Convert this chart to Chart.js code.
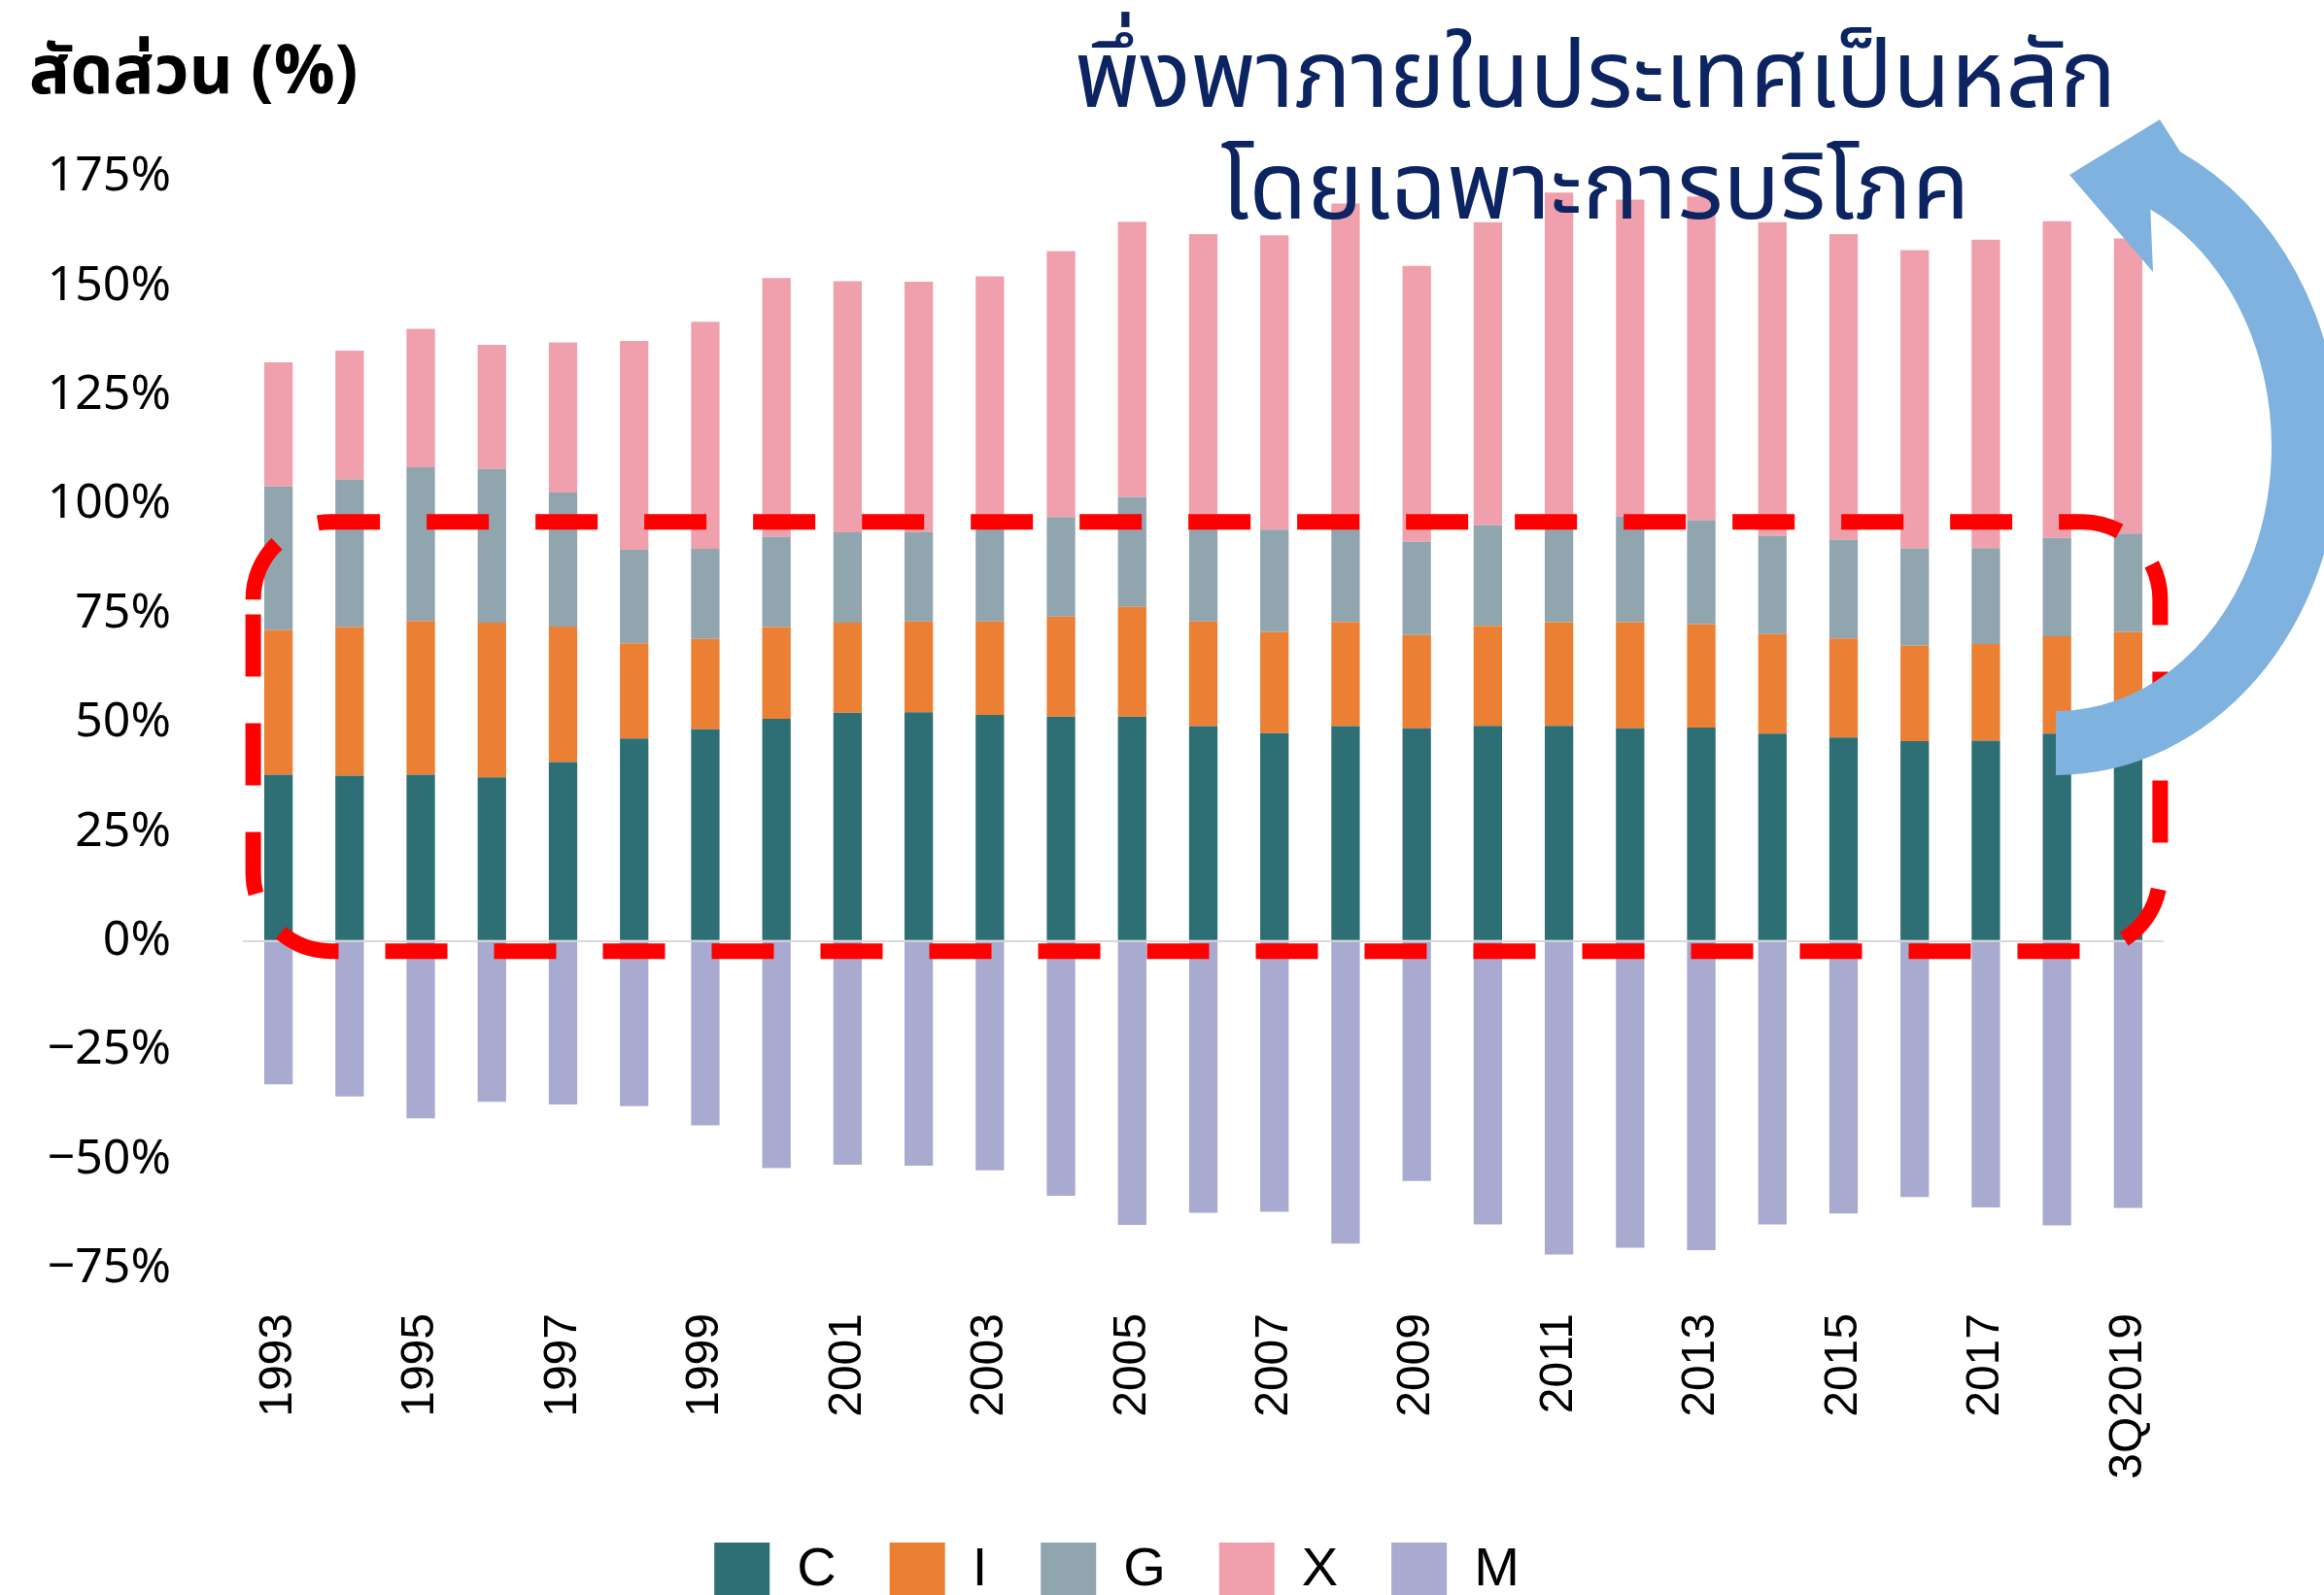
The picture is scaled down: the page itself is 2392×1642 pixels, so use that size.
<!DOCTYPE html>
<html>
<head>
<meta charset="utf-8">
<script src="https://cdn.jsdelivr.net/npm/chart.js@4.4.0/dist/chart.umd.min.js"></script>
<style>
  html, body { margin: 0; padding: 0; background: #ffffff; }
</style>
</head>
<body>
<canvas id="barchart1" width="2392" height="1642"></canvas>
<script>
// ข้อมูล: สัดส่วนต่อ GDP (%)
const years = ['1993', '1994', '1995', '1996', '1997', '1998', '1999', '2000', '2001', '2002',
  '2003', '2004', '2005', '2006', '2007', '2008', '2009', '2010', '2011', '2012',
  '2013', '2014', '2015', '2016', '2017', '2018', '3Q2019'];
const shownYears = ['1993', '1995', '1997', '1999', '2001', '2003', '2005', '2007', '2009',
  '2011', '2013', '2015', '2017', '3Q2019'];

const valuesC = [38.1, 37.9, 38.1, 37.5, 41.0, 46.4, 48.5, 50.9, 52.3, 52.4, 51.8, 51.4, 51.4, 49.2,
  47.6, 49.2, 48.7, 49.3, 49.3, 48.7, 48.9, 47.5, 46.6, 45.8, 45.9, 47.5, 47.0];
const valuesI = [33.1, 34.0, 35.2, 35.4, 31.0, 21.8, 20.7, 21.0, 20.6, 20.8, 21.4, 22.9, 25.1, 24.0,
  23.2, 23.9, 21.4, 22.9, 23.7, 24.3, 23.7, 22.8, 22.7, 21.8, 22.1, 22.3, 23.8];
const valuesG = [32.9, 33.8, 35.2, 35.2, 30.7, 21.4, 20.6, 20.7, 20.7, 20.5, 22.3, 22.8, 25.2, 22.3,
  23.4, 22.4, 21.3, 23.0, 22.5, 24.2, 23.8, 22.5, 22.6, 22.3, 22.0, 22.5, 22.5];
const valuesX = [28.4, 29.5, 31.7, 28.4, 34.4, 47.8, 52.0, 59.2, 57.5, 57.3, 56.7, 60.9, 63.0, 66.4,
  67.4, 73.4, 63.2, 69.4, 75.9, 72.6, 74.1, 71.8, 70.0, 68.3, 70.6, 72.5, 67.6];
const valuesM = [-32.8, -35.6, -40.6, -36.8, -37.4, -37.8, -42.2, -52.0, -51.2, -51.4, -52.5, -58.3,
  -65.0, -62.2, -62.0, -69.3, -54.9, -64.9, -71.8, -70.2, -70.8, -64.9, -62.4, -58.6, -61.0, -65.1, -61.1];

const seriesNames = ['C', 'I', 'G', 'X', 'M'];
const seriesColors = ['#2e6f75', '#eb8035', '#91a5af', '#f0a0ac', '#a8aacf'];

const yTicks = [-75, -50, -25, 0, 25, 50, 75, 100, 125, 150, 175];

const thaiFont = '"Noto Sans Thai", "Noto Sans Thai UI", "Noto Sans", sans-serif';
const latinFont = '"Liberation Sans", Arial, sans-serif';

// วาดกรอบเส้นประ ลูกศร และข้อความ
const annotations = {
  id: 'annotations',
  afterLayout(chart) {
    // เลื่อน legend ให้ตรงกับภาพต้นฉบับ
    chart.legend.left += 36;
    chart.legend.right += 36;
  },
  afterDraw(chart) {
    const ctx = chart.ctx;
    const xs = chart.scales.x;
    const ys = chart.scales.y;

    // กรอบเส้นประสีแดง (C + I + G)
    const left = xs.getPixelForValue(0) - 26;
    const right = xs.getPixelForValue(years.length - 1) + 33;
    const top = ys.getPixelForValue(96);
    const bottom = ys.getPixelForValue(-2.3);
    const r = 80;
    ctx.save();
    ctx.strokeStyle = '#ff0000';
    ctx.lineWidth = 16;
    ctx.setLineDash([64, 48]);
    ctx.beginPath();
    ctx.moveTo(left, top + r);
    ctx.arcTo(left, top, left + r, top, r);
    ctx.lineTo(right - r, top);
    ctx.arcTo(right, top, right, top + r, r);
    ctx.lineTo(right, bottom - r);
    ctx.arcTo(right, bottom, right - r, bottom, r);
    ctx.lineTo(left + r, bottom);
    ctx.arcTo(left, bottom, left, bottom - r, r);
    ctx.closePath();
    ctx.stroke();
    ctx.restore();

    // ลูกศรโค้งสีฟ้า
    const cx = 2116, cy = 460;
    const t1 = -64 * Math.PI / 180;
    ctx.save();
    ctx.fillStyle = '#7fb2df';
    ctx.beginPath();
    ctx.ellipse(cx, cy, 292, 338, 0, Math.PI / 2, t1, true);
    ctx.lineTo(2223, 123);
    ctx.lineTo(2130, 180);
    ctx.lineTo(2216, 280);
    ctx.ellipse(cx, cy, 222, 272, 0, t1, Math.PI / 2, false);
    ctx.closePath();
    ctx.fill();
    ctx.restore();

    // ชื่อแกน y
    ctx.save();
    ctx.fillStyle = '#000000';
    ctx.font = 'bold 70px ' + thaiFont;
    ctx.textAlign = 'left';
    ctx.textBaseline = 'alphabetic';
    ctx.fillText('สัดส่วน (%)', 30, 96);

    // ข้อความหัวเรื่อง
    ctx.fillStyle = '#0c2461';
    ctx.font = '97px ' + thaiFont;
    ctx.textAlign = 'center';
    ctx.fillText('พึ่งพาภายในประเทศเป็นหลัก', 1642, 110);
    ctx.fillText('โดยเฉพาะการบริโภค', 1642, 225);
    ctx.restore();
  }
};

const seriesValues = [valuesC, valuesI, valuesG, valuesX, valuesM];
const chartData = {
  labels: years,
  datasets: seriesNames.map((name, i) => ({
    label: name,
    data: seriesValues[i],
    backgroundColor: seriesColors[i],
    borderWidth: 0,
    barPercentage: 0.4,
    categoryPercentage: 1.0
  }))
};

new Chart('barchart1', {
  type: 'bar',
  data: chartData,
  plugins: [annotations],
  options: {
    responsive: false,
    animation: false,
    devicePixelRatio: 1,
    layout: { padding: { left: 0, right: 165, top: 182, bottom: -13 } },
    plugins: {
      tooltip: { enabled: false },
      legend: {
        position: 'bottom',
        labels: {
          boxWidth: 57,
          boxHeight: 57,
          padding: 55,
          color: '#000000',
          font: { family: latinFont, size: 56 }
        }
      }
    },
    scales: {
      x: {
        stacked: true,
        grid: { display: false, drawTicks: false },
        border: { display: false },
        ticks: {
          autoSkip: false,
          minRotation: 90,
          maxRotation: 90,
          padding: 46,
          color: '#000000',
          font: { family: latinFont, size: 48 },
          callback: function (value, index) {
            const lab = years[index];
            return shownYears.includes(lab) ? lab : '';
          }
        },
        afterFit: (scale) => { scale.height = 227; }
      },
      y: {
        stacked: true,
        min: yTicks[0],
        max: yTicks[yTicks.length - 1],
        afterBuildTicks: (scale) => { scale.ticks = yTicks.map(v => ({ value: v })); },
        grid: {
          drawTicks: false,
          lineWidth: 2,
          color: (c) => (c.tick && c.tick.value === 0 ? '#d9d9d9' : 'rgba(0,0,0,0)')
        },
        border: { display: false },
        ticks: {
          padding: 74,
          color: '#000000',
          font: { family: '"Noto Sans", sans-serif', size: 50 },
          callback: (v) => (v < 0 ? '\u2212' + Math.abs(v) : v) + '%'
        },
        afterFit: (scale) => { scale.width = 250; }
      }
    }
  }
});
</script>
</body>
</html>
